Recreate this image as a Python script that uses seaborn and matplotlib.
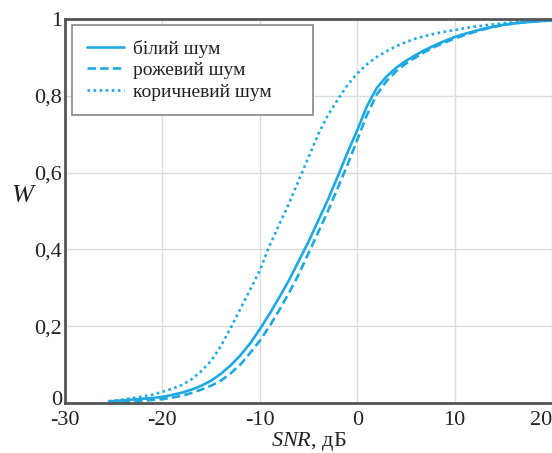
import numpy as np
import pandas as pd
import matplotlib
matplotlib.use("Agg")
import matplotlib.pyplot as plt
import matplotlib.transforms as mtransforms
import seaborn as sns

# SNR grid, dB
snr = [-25.5] + list(range(-25, 21))

# detection probability W for each noise type
white = [0.004, 0.005, 0.007, 0.009, 0.011, 0.013, 0.016, 0.021, 0.027, 0.035, 0.045,
         0.058, 0.076, 0.098, 0.124, 0.155, 0.192, 0.232, 0.275, 0.32, 0.37, 0.42,
         0.475, 0.53, 0.59, 0.652, 0.71, 0.773, 0.82, 0.85, 0.873, 0.891, 0.906,
         0.92, 0.932, 0.943, 0.953, 0.961, 0.968, 0.975, 0.98, 0.985, 0.988, 0.991,
         0.993, 0.995, 0.996]
pink = [0.002, 0.003, 0.004, 0.005, 0.006, 0.008, 0.010, 0.014, 0.019, 0.026, 0.035,
        0.045, 0.058, 0.077, 0.1, 0.13, 0.162, 0.2, 0.242, 0.287, 0.335, 0.39,
        0.445, 0.5, 0.56, 0.62, 0.685, 0.75, 0.803, 0.838, 0.864, 0.884, 0.9,
        0.915, 0.928, 0.939, 0.949, 0.958, 0.966, 0.973, 0.979, 0.984, 0.988, 0.991,
        0.993, 0.995, 0.996]
brown = [0.005, 0.006, 0.009, 0.013, 0.017, 0.022, 0.029, 0.037, 0.047, 0.062, 0.083,
         0.11, 0.148, 0.195, 0.245, 0.295, 0.345, 0.41, 0.465, 0.52, 0.58, 0.64,
         0.70, 0.75, 0.79, 0.828, 0.858, 0.882, 0.901, 0.916, 0.929, 0.94, 0.949,
         0.956, 0.962, 0.967, 0.971, 0.976, 0.98, 0.983, 0.986, 0.989, 0.991, 0.993,
         0.995, 0.996, 0.997]

labels = ["білий шум", "рожевий шум", "коричневий шум"]
x_ticks = [-30, -20, -10, 0, 10, 20]
y_ticks = [0, 0.2, 0.4, 0.6, 0.8, 1.0]
y_tick_labels = ["0", "0,2", "0,4", "0,6", "0,8", "1"]

sns.set_theme(style="whitegrid")
plt.rcParams["font.family"] = ["Liberation Serif", "DejaVu Serif"]
plt.rcParams["mathtext.fontset"] = "custom"
plt.rcParams["mathtext.it"] = "Liberation Serif:italic"

color = "#1ea8e2"
fig = plt.figure(figsize=(5.52, 4.53), dpi=100)
ax = fig.add_axes([65 / 552, 50 / 453, 487 / 552, 384 / 453])

dash_styles = [None, (3.2, 1.6), (1, 1.3)]
for vals, lab, dash in zip([white, pink, brown], labels, dash_styles):
    df = pd.DataFrame({"snr": snr, "W": vals})
    sns.lineplot(data=df, x="snr", y="W", ax=ax, color=color, lw=1.9, label=lab)
    if dash is not None:
        ax.get_lines()[-1].set_dashes(dash)

ax.set_xlim(-30, 20)
ax.set_ylim(0, 1)
ax.set_xticks(x_ticks)
ax.set_xticklabels([str(t) for t in x_ticks])
ax.set_yticks(y_ticks)
ax.set_yticklabels(y_tick_labels)
ax.tick_params(axis="both", labelsize=16, colors="#222222", length=0)
ax.tick_params(axis="x", pad=6)
ax.tick_params(axis="y", pad=2)

# keep the edge labels inside the canvas and clear of each other
ax.get_xticklabels()[-1].set_horizontalalignment("right")
zero_lab = ax.get_yticklabels()[0]
zero_lab.set_transform(zero_lab.get_transform() +
                       mtransforms.ScaledTranslation(0, 5 / 100, fig.dpi_scale_trans))

ax.grid(True, color="#dcdcdc", lw=1)
ax.set_facecolor("white")
for side in ["left", "bottom", "top"]:
    ax.spines[side].set_color("#555555")
    ax.spines[side].set_linewidth(2)
ax.spines["right"].set_visible(False)

ax.set_xlabel(r"$SNR$, дБ", fontsize=16, color="#222222", labelpad=0)
ax.set_ylabel(r"$W$", fontsize=19, color="#222222", rotation=0)
ax.yaxis.set_label_coords(-0.085, 0.51)

leg = ax.legend(loc="upper left", fontsize=14, frameon=True, fancybox=False,
                bbox_to_anchor=(0.0144, 0.984, 0.495, 0.0), mode="expand",
                handlelength=1.9, handletextpad=0.5, labelspacing=0.2,
                borderaxespad=0.0, borderpad=0.75)
leg.get_frame().set_edgecolor("#888888")
leg.get_frame().set_linewidth(1.2)
leg.get_frame().set_alpha(1)
for t in leg.get_texts():
    t.set_color("#222222")

fig.savefig("out.png", dpi=100)
